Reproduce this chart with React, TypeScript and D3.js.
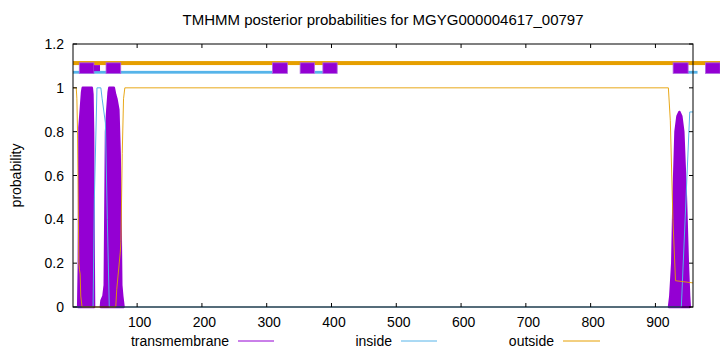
import React from "react";
import * as d3 from "d3";

const SEQ_LEN = 958;
const TITLE = "TMHMM posterior probabilities for MGYG000004617_00797";
const xTicks = [100, 200, 300, 400, 500, 600, 700, 800, 900];
const yTicks = [0, 0.2, 0.4, 0.6, 0.8, 1, 1.2];
const yTickLabels = ["0", "0.2", "0.4", "0.6", "0.8", "1", "1.2"];

// posterior curves: [residue, probability]
const tmPeak1: [number, number][] = [
  [9, 0], [10, 0.18], [10.5, 0.5], [11, 0.82], [13, 0.9], [15, 0.98], [16, 1.0], [30, 1.0], [31, 0.97], [32, 0.8], [33, 0.2], [33.5, 0],
];
const tmPeak2: [number, number][] = [
  [44, 0], [45, 0.03], [48, 0.05], [50, 0.1], [51.5, 0.6], [52, 0.8], [54, 0.9], [56, 0.98], [57, 1.0], [64, 1.0], [66, 0.97], [68, 0.95], [71, 0.9], [73, 0.7], [74, 0.5], [75.5, 0.1], [77, 0.05], [79, 0],
];
const tmPeak3: [number, number][] = [
  [921, 0], [923, 0.05], [926, 0.2], [928, 0.5], [931, 0.8], [934, 0.87], [937, 0.89], [940, 0.87], [943, 0.8], [947, 0.5], [950, 0.2], [952, 0.05], [953, 0],
];
const insideCurve: [number, number][] = [
  [1, 0], [32, 0], [34, 0.5], [38, 1.0], [44, 1.0], [46, 0.95], [51, 0.84], [54, 0.4], [57, 0], [940, 0], [953, 0.89], [958, 0.89],
];
const outsideCurve: [number, number][] = [
  [1, 1], [6, 1], [7, 0.95], [8, 0.8], [10, 0.2], [11, 0.17], [12, 0.15], [13, 0.05], [15, 0], [67, 0], [68.5, 0.08], [74, 0.25], [75, 0.3], [77, 0.7], [79, 0.95], [81, 1.0], [920, 1.0], [923, 0.85], [927, 0.4], [931, 0.12], [958, 0.11],
];

// topology bars: [start, end]
const outsideBars: [number, number][] = [[1, 1000]];
const insideBars: [number, number][] = [[1, 309], [373.7, 386.7], [950, 965]];
const tmBars: [number, number][] = [
  [10.7, 33.4], [52, 74.7], [308.8, 332], [351.6, 373.7], [386.7, 408.8], [927.3, 950.5], [977.2, 1000],
];
const tmSmallBars: [number, number][] = [[33.4, 42.7]];

const legendItems = [
  { label: "transmembrane", color: "#9400D3", textEnd: 229, x1: 238, x2: 274 },
  { label: "inside", color: "#56B4E9", textEnd: 392, x1: 401, x2: 437 },
  { label: "outside", color: "#E69F00", textEnd: 554, x1: 563, x2: 600 },
];

const PURPLE = "#9400D3";
const BLUE = "#56B4E9";
const ORANGE = "#E69F00";
const FONT = "'Liberation Sans', Arial, sans-serif";
const FS = 14;

export default function App() {
  const W = 720, H = 352;
  const left = 73, right = 693, top = 44, bottom = 307;
  const x = d3.scaleLinear().domain([1, SEQ_LEN]).range([left, right]);
  const y = d3.scaleLinear().domain([0, 1.2]).range([bottom, top]);
  const line = d3.line<[number, number]>().x((d) => x(d[0])).y((d) => y(d[1]));
  const area = d3
    .area<[number, number]>()
    .x((d) => x(d[0]))
    .y0(y(0))
    .y1((d) => y(d[1]));
  const tick = 4;

  return (
    <svg width={W} height={H} style={{ position: "absolute", left: 0, top: 0, background: "#fff" }} fontFamily={FONT}>
      <rect x={0} y={0} width={W} height={H} fill="#fff" />
      <text x={(left + right) / 2} y={25} textAnchor="middle" fontSize={15} fill="#000">
        {TITLE}
      </text>

      {/* TM posterior */}
      {[tmPeak1, tmPeak2, tmPeak3].map((p, i) => (
        <path key={i} d={area(p) || ""} fill={PURPLE} stroke={PURPLE} strokeWidth={2.5} strokeLinejoin="round" />
      ))}
      <path d={line(insideCurve) || ""} fill="none" stroke={BLUE} strokeWidth={1} />
      <path d={line(outsideCurve) || ""} fill="none" stroke={ORANGE} strokeWidth={1} opacity={0.9} />

      {/* topology bars */}
      {outsideBars.map((b, i) => (
        <rect key={"o" + i} x={x(b[0])} width={x(b[1]) - x(b[0])} y={y(1.113) - 2} height={4} fill={ORANGE} />
      ))}
      {insideBars.map((b, i) => (
        <rect key={"i" + i} x={x(b[0])} width={x(b[1]) - x(b[0])} y={y(1.071) - 1.4} height={2.8} fill={BLUE} />
      ))}
      {tmBars.map((b, i) => (
        <rect key={"t" + i} x={x(b[0])} width={x(b[1]) - x(b[0])} y={y(1.09) - 5.3} height={10.6} fill={PURPLE} stroke="#b066e0" strokeWidth={0.8} />
      ))}
      {tmSmallBars.map((b, i) => (
        <rect key={"s" + i} x={x(b[0])} width={x(b[1]) - x(b[0])} y={y(1.09) - 3} height={6} fill={PURPLE} />
      ))}

      {/* border */}
      <rect x={left} y={top} width={right - left} height={bottom - top} fill="none" stroke="#000" strokeWidth={1} />

      {/* y ticks */}
      {yTicks.map((t, i) => (
        <g key={"y" + i}>
          <line x1={left} x2={left + tick} y1={y(t)} y2={y(t)} stroke="#000" />
          <line x1={right} x2={right - tick} y1={y(t)} y2={y(t)} stroke="#000" />
          <text x={64} y={y(t) + 5} textAnchor="end" fontSize={FS} fill="#000">
            {yTickLabels[i]}
          </text>
        </g>
      ))}
      {/* x ticks */}
      {xTicks.map((t) => (
        <g key={"x" + t}>
          <line x1={x(t)} x2={x(t)} y1={bottom} y2={bottom - tick} stroke="#000" />
          <line x1={x(t)} x2={x(t)} y1={top} y2={top + tick} stroke="#000" />
          <text x={x(t) + 2.5} y={326.8} textAnchor="middle" fontSize={FS} fill="#000">
            {t}
          </text>
        </g>
      ))}

      <text transform={`translate(21,${(top + bottom) / 2}) rotate(-90)`} textAnchor="middle" fontSize={FS} fill="#000">
        probability
      </text>

      {/* legend */}
      {legendItems.map((l) => (
        <g key={l.label}>
          <text x={l.textEnd} y={345.8} textAnchor="end" fontSize={FS} fill="#000">
            {l.label}
          </text>
          <line x1={l.x1} x2={l.x2} y1={341} y2={341} stroke={l.color} strokeWidth={1} />
        </g>
      ))}
    </svg>
  );
}
